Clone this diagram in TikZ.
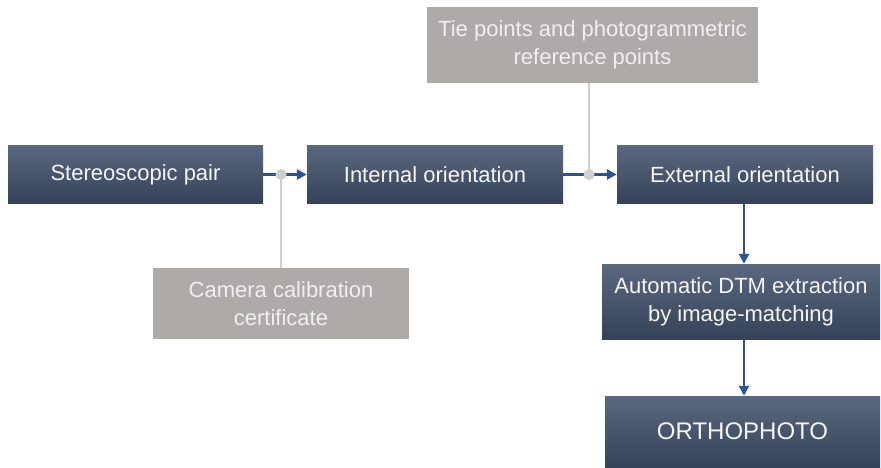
\documentclass[tikz,border=0pt]{standalone}
\usepackage{fontspec}
\setmainfont{Liberation Sans}
\usepackage{tikz}
\usepackage{xcolor}
\usetikzlibrary{
    arrows.meta,
    calc,
    positioning
}
\definecolor{boxtop}{HTML}{5A687F}
\definecolor{boxbot}{HTML}{34425A}
\definecolor{inputgray}{HTML}{AEAAA8}
\definecolor{flowblue}{HTML}{2E5391}
\definecolor{linkgray}{HTML}{CFCFCF}

\begin{document}
\begin{tikzpicture}[x=1pt, y=-1pt,
    step box/.style={top color=boxtop, bottom color=boxbot, text=white!96!black,
        font=\fontsize{22}{28}\selectfont, align=center, inner sep=0pt,
        minimum height=57pt},
    input box/.style={fill=inputgray, text=white!94!black,
        font=\fontsize{22}{28}\selectfont, align=center, inner sep=0pt},
    flow/.style={draw=flowblue, line width=2.8pt,
        -{Triangle[length=10pt,width=10pt]}},
    link/.style={draw=linkgray, line width=2.4pt},
    joint/.style={circle, fill=linkgray, inner sep=0pt, minimum size=11pt}]
                        \useasboundingbox (0, 0) rectangle (881, 468);

                        \node[step box, minimum width=255pt] (pair) at (135.5, 174.5) {Stereoscopic pair};
                        \node[step box, minimum width=256pt] (internal) at (435, 174.5) {Internal orientation};
                        \node[step box, minimum width=256pt] (external) at (745, 174.5) {External orientation};
                        \node[step box, minimum width=278pt, minimum height=75pt] (dtm) at (741, 301.5) {Automatic DTM extraction\\by image-matching};
                        \node[step box, minimum width=275pt, minimum height=71pt, font=\fontsize{24}{28}\selectfont] (ortho) at (742.5, 431.5) {ORTHOPHOTO};

                        \node[input box, minimum width=331pt, minimum height=76pt] (tie) at (592.5, 45) {Tie points and photogrammetric\\reference points};
                        \node[input box, minimum width=256pt, minimum height=71pt] (camera) at (281, 303.5) {Camera calibration\\certificate};

                        \coordinate (j1) at (281, 174.5);
                        \coordinate (j2) at (589, 174.5);

                        \draw
                        (camera) edge[link] (j1)
                        (tie.south -| j2) edge[link] (j2);

                        \draw
                        (pair) edge[flow, -] (j1)
                        (j1) edge[flow] (internal)
                        (internal) edge[flow, -] (j2)
                        (j2) edge[flow] (external)
                        (external.south -| 744, 0) edge[flow] (dtm.north -| 744, 0)
                        (dtm.south -| 744, 0) edge[flow] (ortho.north -| 744, 0);

                        \node[joint] (d1) at (j1) {};
                        \node[joint] (d2) at (j2) {};
                    \end{tikzpicture}
\end{document}
